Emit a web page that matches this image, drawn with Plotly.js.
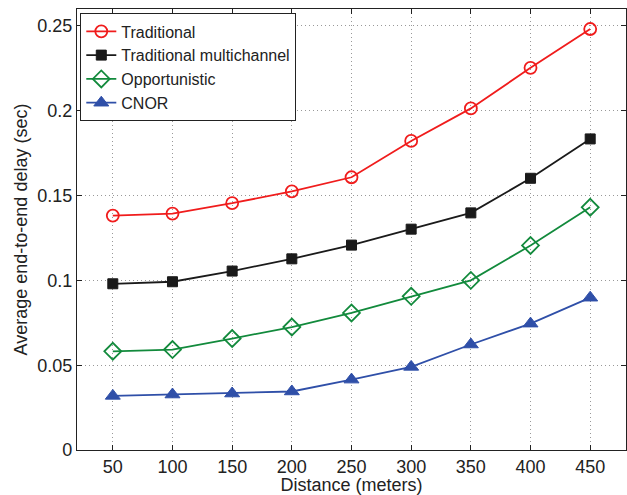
<!DOCTYPE html>
<html><head><meta charset="utf-8">
<script src="https://cdn.plot.ly/plotly-3.0.1.min.js"></script>
<style>html,body{margin:0;padding:0;background:#fff}#chart{width:627px;height:495px}</style>
</head><body><div id="chart"></div>
<script>
const distance = [50, 100, 150, 200, 250, 300, 350, 400, 450];
const traditional = [0.1382, 0.1394, 0.1455, 0.1525, 0.1608, 0.1822, 0.2014, 0.2253, 0.2482];
const tradMulti = [0.0980, 0.0992, 0.1055, 0.1127, 0.1208, 0.1302, 0.1398, 0.1602, 0.1834];
const opportunistic = [0.0582, 0.0592, 0.0657, 0.0725, 0.0808, 0.0906, 0.1000, 0.1206, 0.1431];
const cnor = [0.0319, 0.0327, 0.0333, 0.0345, 0.0415, 0.0490, 0.0622, 0.0745, 0.0898];
const seriesNames = ['Traditional', 'Traditional multichannel', 'Opportunistic', 'CNOR'];

const font = 'Liberation Sans, Arial, sans-serif';
function tr(y, name, color, symbol, size, mlw) {
  return {x: distance, y: y, name: name, type: 'scatter', mode: 'lines+markers',
    line: {color: color, width: 1.8},
    marker: {symbol: symbol, size: size, color: color, line: {color: color, width: mlw}}};
}
const data = [
  tr(traditional, seriesNames[0], '#f01c1c', 'circle-open', 12, 1.8),
  tr(tradMulti, seriesNames[1], '#1a1a1a', 'square', 10, 1),
  tr(opportunistic, seriesNames[2], '#128a3c', 'diamond-open', 13, 1.8),
  tr(cnor, seriesNames[3], '#2f4fa8', 'triangle-up', 13, 1)
];
const layout = {
  width: 627, height: 495,
  margin: {l: 77, r: 1, t: 9, b: 45},
  paper_bgcolor: '#fff', plot_bgcolor: '#fff',
  font: {family: font, size: 18, color: '#222'},
  showlegend: true,
  legend: {x: 0.006, y: 0.99, xanchor: 'left', yanchor: 'top', bgcolor: '#fff',
    bordercolor: '#222', borderwidth: 1, font: {family: font, size: 16, color: '#222'},
    tracegroupgap: 0, itemwidth: 30},
  xaxis: {range: [20, 480], tickvals: distance, ticks: 'inside', ticklen: 5, tickcolor: '#222',
    showline: true, linecolor: '#222', linewidth: 1.2, mirror: 'ticks',
    showgrid: true, gridcolor: '#999', griddash: '1px,3px', gridwidth: 1, zeroline: false,
    tickfont: {size: 18}, title: {text: 'Distance (meters)', font: {size: 18}, standoff: 0}},
  yaxis: {range: [0, 0.26], tickvals: [0, 0.05, 0.1, 0.15, 0.2, 0.25], ticktext: ['0','0.05','0.1','0.15','0.2','0.25'],
    ticks: 'inside', ticklen: 5, tickcolor: '#222',
    showline: true, linecolor: '#222', linewidth: 1.2, mirror: 'ticks',
    showgrid: true, gridcolor: '#999', griddash: '1px,3px', gridwidth: 1, zeroline: false,
    tickfont: {size: 18}, title: {text: 'Average end-to-end delay (sec)', font: {size: 18}, standoff: 4}}
};
Plotly.newPlot('chart', data, layout, {displayModeBar: false, staticPlot: true});
</script></body></html>
